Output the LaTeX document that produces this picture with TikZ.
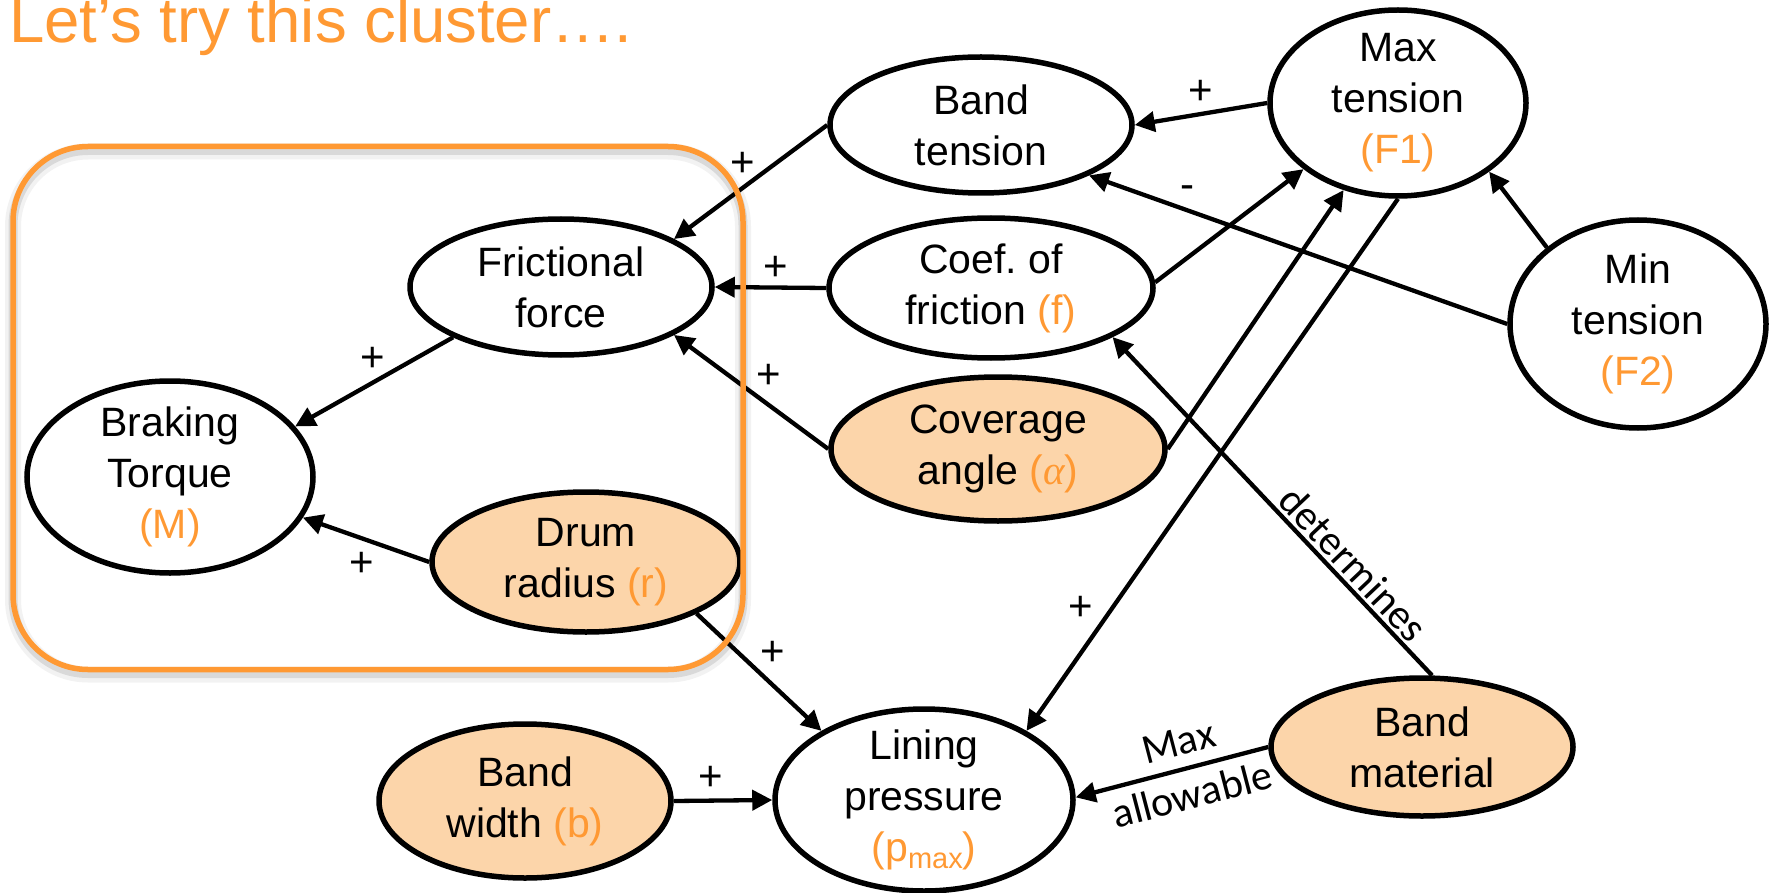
\documentclass[tikz,border=0pt]{standalone}
\usepackage{fontspec}
\setmainfont{Liberation Sans}
\newfontfamily\calibrifam{Carlito}
\newfontfamily\greekfam{Liberation Serif}
\usetikzlibrary{arrows.meta,shapes.geometric}
\definecolor{accent}{RGB}{255,153,51}
\definecolor{peach}{RGB}{252,213,170}
\newcommand\acc[1]{\textcolor{accent}{#1}}

\begin{document}
\begin{tikzpicture}[x=1pt,y=-1pt,
  ell/.style={ellipse, draw=black, line width=5.5pt, fill=white, inner sep=0pt},
  given/.style={ell, fill=peach},
  nt/.style={align=center, inner sep=0pt, font=\fontsize{41}{51}\selectfont},
  arr/.style={line width=4.3pt, -{Triangle[length=20pt,width=20pt]}},
  sgn/.style={font=\fontsize{42}{42}\selectfont, inner sep=0pt},
  edgenote/.style={font=\calibrifam\fontsize{42}{55}\selectfont, inner sep=3pt},
  cluster/.style={rounded corners=75pt, minimum width=730pt, minimum height=523pt, inner sep=0pt},
]
\useasboundingbox (0,0) rectangle (1774,893);

% heading
\node[anchor=base west, inner sep=0pt, text=accent, font=\fontsize{63.5}{64}\selectfont]
  (title) at (9,43) {Let’s try this cluster….};

% variables
\node[ell, minimum width=302pt, minimum height=136pt,
  label={[nt]center:{Band\\tension}}] (bt) at (981,125) {};
\node[ell, minimum width=256pt, minimum height=186pt,
  label={[nt]center:{Max\\tension\\\acc{(F1)}}}] (mt) at (1398,103) {};
\node[ell, minimum width=256pt, minimum height=208pt,
  label={[nt]center:{Min\\tension\\\acc{(F2)}}}] (mint) at (1638,324) {};
\node[ell, minimum width=302pt, minimum height=136pt,
  label={[nt]center:{Frictional\\force}}] (ff) at (561,287) {};
\node[ell, minimum width=324pt, minimum height=140pt,
  label={[nt]center:{Coef.\ of\\friction \acc{(f)}}}] (cf) at (991,288) {};
\node[given, minimum width=334pt, minimum height=144pt,
  label={[nt]center:{Coverage\\angle \acc{({\greekfam\itshape α})}}}] (ca) at (998,449) {};
\node[ell, minimum width=286pt, minimum height=192pt,
  label={[nt]center:{Braking\\Torque\\\acc{(M)}}}] (btq) at (170,477) {};
\node[given, minimum width=308pt, minimum height=140pt,
  label={[nt]center:{Drum\\radius \acc{(r)}}}] (dr) at (586,562) {};
\node[given, minimum width=292pt, minimum height=154pt,
  label={[nt]center:{Band\\width \acc{(b)}}}] (bw) at (525,801) {};
\node[ell, minimum width=298pt, minimum height=182pt,
  label={[nt]center:{Lining\\pressure\\\acc{(p\raisebox{-7pt}{\fontsize{29}{29}\selectfont max})}}}] (lp) at (924,800) {};
\node[given, minimum width=302pt, minimum height=138pt,
  label={[nt]center:{Band\\material}}] (bm) at (1422,747) {};

% causal links
\draw[arr] (bt.west) -- (ff.23);
\draw[arr] (cf.west) -- (ff.east);
\draw[arr] (ca.west) -- (ff.-23);
\draw[arr] (ff.205) -- (btq.22);
\draw[arr] (dr.west) -- (btq.-17);
\draw[arr] (dr.-25) -- (lp.146);
\draw[arr] (bw.east) -- (lp.west);
\draw[arr] (mt.west) -- (bt.east);
\draw[arr] (mint.west) -- (bt.-25);
\draw[arr] (mint.140) -- (mt.-37);
\draw[arr] (cf.2) -- (mt.215);
\draw[arr] (ca.east) -- (mt.238);
\draw[arr] (mt.south) -- (lp.34);
\draw[arr] (bm.82) -- node[edgenote, pos=0.29, sloped, above] (det) {determines} (cf.-22);
\draw[arr] (bm.west) -- node[edgenote, pos=0.43, sloped, align=center] (allow) {Max\\allowable} (lp.1);

% polarity marks
\node[sgn] (p1) at (743,164) {+};
\node[sgn] (p2) at (776,268) {+};
\node[sgn] (p3) at (769,376) {+};
\node[sgn] (p4) at (373,359) {+};
\node[sgn] (p5) at (362,564) {+};
\node[sgn] (p6) at (773,653) {+};
\node[sgn] (p7) at (711,778) {+};
\node[sgn] (p8) at (1201,92) {+};
\node[sgn] (m9) at (1187,192) {-};
\node[sgn] (p10) at (1081,608) {+};

% highlighted cluster with a soft shadow
\node[cluster, draw=black, opacity=0.05, line width=16pt] (clshadow2) at (378,413) {};
\node[cluster, draw=black, opacity=0.10, line width=9pt] (clshadow) at (378,412) {};
\node[cluster, draw=accent, line width=5.5pt] (cl) at (378,408) {};
\end{tikzpicture}
\end{document}
